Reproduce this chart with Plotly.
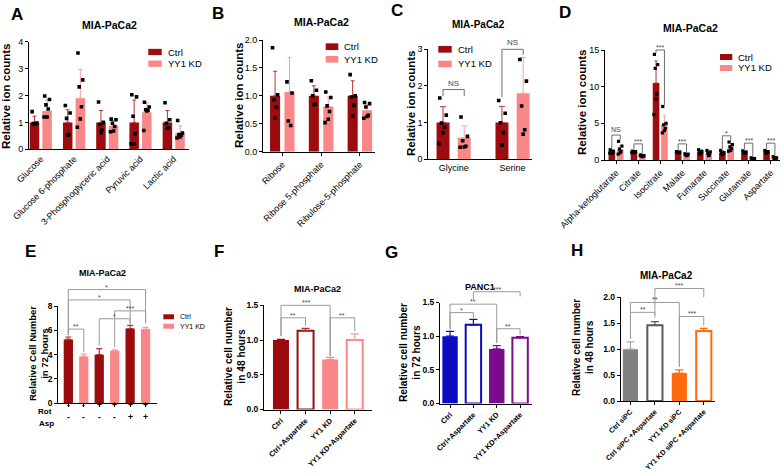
import plotly.graph_objects as go

W, H = 784, 476
FONT = 'Liberation Sans, Arial, Helvetica, sans-serif'

CTRL = '#9C0C0E'
CTRL_ERR = '#B83232'
KD = '#F98787'
KD_ERR = '#F6A0A0'
BLUE = '#0B0BC2'
PURPLE = '#7A0C8C'
GREY = '#808080'
GREY_DARK = '#595959'
ORANGE = '#FF6A0D'
BRK = '#9A9A9A'
BRK_DARK = '#6E6E6E'

# ---------------- Panel A ----------------
a_cats = ['Glucose', 'Glucose 6-phosphate', '3-Phosphoglyceric acid', 'Pyruvic acid', 'Lactic acid']
a_ctrl_mean = [1.0, 1.0, 1.0, 1.0, 1.0]
a_ctrl_sd = [0.23, 0.47, 0.44, 0.83, 0.44]
a_kd_mean = [1.42, 1.90, 0.88, 1.38, 0.60]
a_kd_sd = [0.42, 1.07, 0.20, 0.35, 0.27]
a_ctrl_pts = [[1.40, 0.98, 0.96, 0.95, 0.93],
              [1.63, 1.35, 1.15, 0.55, 0.52],
              [1.76, 1.00, 0.92, 0.72, 0.62],
              [2.03, 1.95, 1.23, 0.58, 0.20, 0.20],
              [1.73, 1.10, 0.97, 0.78, 0.78]]
a_kd_pts = [[1.98, 1.85, 1.65, 1.50, 1.20, 1.20],
            [3.58, 2.58, 2.32, 1.58, 1.13, 0.82],
            [1.12, 1.10, 0.97, 0.85, 0.68, 0.65],
            [1.75, 1.57, 1.47, 1.45, 1.43, 0.70],
            [1.07, 0.60, 0.55, 0.52, 0.46, 0.42]]

# ---------------- Panel B ----------------
b_cats = ['Ribose', 'Ribose 5-phosphate', 'Ribulose-5-phosphate']
b_ctrl_mean = [1.0, 1.0, 1.0]
b_ctrl_sd = [0.44, 0.18, 0.27]
b_kd_mean = [1.07, 0.81, 0.74]
b_kd_sd = [0.62, 0.17, 0.10]
b_ctrl_pts = [[1.86, 1.02, 0.93, 0.80, 0.60],
              [1.27, 1.10, 1.00, 0.85, 0.84],
              [1.38, 1.00, 0.98, 0.83, 0.64]]
b_kd_pts = [[1.25, 1.05, 0.55, 0.47],
            [1.07, 0.97, 0.82, 0.72, 0.58, 0.52],
            [0.88, 0.86, 0.80, 0.65, 0.63, 0.60]]

# ---------------- Panel C ----------------
c_cats = ['Glycine', 'Serine']
c_ctrl_mean = [1.0, 1.0]
c_ctrl_sd = [0.43, 0.44]
c_kd_mean = [0.58, 1.80]
c_kd_sd = [0.32, 0.98]
c_ctrl_pts = [[1.67, 1.20, 0.98, 0.87, 0.72, 0.42],
              [1.60, 1.25, 0.99, 0.72, 0.38]]
c_kd_pts = [[1.15, 0.62, 0.50, 0.35, 0.33, 0.32],
            [2.72, 2.13, 1.45, 0.80, 0.68]]
c_sig = ['NS', 'NS']

# ---------------- Panel D ----------------
d_cats = ['Alpha-ketoglutarate', 'Citrate', 'Isocitrate', 'Malate', 'Fumarate',
          'Succinate', 'Glutamate', 'Aspartate']
d_ctrl_mean = [1.1, 1.1, 10.5, 1.05, 1.05, 1.0, 1.05, 1.1]
d_ctrl_sd = [0.25, 0.10, 3.0, 0.08, 0.20, 0.25, 0.15, 0.20]
d_kd_mean = [1.4, 0.6, 4.8, 0.75, 0.9, 1.7, 0.2, 0.3]
d_kd_sd = [0.5, 0.15, 1.3, 0.10, 0.20, 0.5, 0.05, 0.08]
d_ctrl_pts = [[1.40, 1.20, 1.10, 1.00, 0.90, 0.95],
              [1.20, 1.15, 1.10, 1.05, 1.00, 1.00],
              [14.4, 13.0, 12.5, 9.0, 8.3, 6.2],
              [1.15, 1.10, 1.05, 1.00, 1.00],
              [1.40, 1.20, 1.00, 0.90, 0.80],
              [1.30, 1.00, 0.90, 0.80, 0.70],
              [1.25, 1.10, 1.00, 0.95, 0.90],
              [1.30, 1.15, 1.10, 1.00, 0.90]]
d_kd_pts = [[2.55, 1.90, 1.50, 1.20, 1.00, 0.80],
            [0.70, 0.60, 0.55, 0.50, 0.45, 0.60],
            [7.3, 5.0, 4.8, 4.3, 4.0, 3.7],
            [0.85, 0.80, 0.70, 0.65, 0.60],
            [1.30, 1.10, 0.90, 0.70, 0.60],
            [2.45, 2.10, 1.80, 1.60, 1.30, 1.20],
            [0.30, 0.20, 0.15, 0.10, 0.10],
            [0.45, 0.30, 0.25, 0.20, 0.20]]
d_sig = ['NS', '***', '***', '***', None, '*', '***', '***']

# ---------------- Panel E ----------------
e_groups = ['Ctrl', 'YY1 KD', 'Ctrl', 'YY1 KD', 'Ctrl', 'YY1 KD']
e_mean = [5.25, 3.85, 4.0, 4.33, 6.15, 6.1]
e_sd = [0.2, 0.2, 0.5, 0.07, 0.25, 0.15]
e_rot = ['-', '-', '+', '+', '+', '+']
e_asp = ['-', '-', '-', '-', '+', '+']

# ---------------- Panel F ----------------
f_cats = ['Ctrl', 'Ctrl+Aspartate', 'YY1 KD', 'YY1 KD+Aspartate']
f_mean = [1.0, 1.133, 0.72, 1.0]
f_sd = [0.01, 0.035, 0.03, 0.09]

# ---------------- Panel G ----------------
g_cats = ['Ctrl', 'Ctrl+Aspartate', 'YY1 KD', 'YY1 KD+Aspartate']
g_mean = [1.0, 1.168, 0.81, 0.977]
g_sd = [0.07, 0.08, 0.05, 0.015]

# ---------------- Panel H ----------------
h_cats = ['Ctrl siPC', 'Ctrl siPC +Aspartate', 'YY1 KD siPC', 'YY1 KD siPC +Aspartate']
h_mean = [1.0, 1.46, 0.54, 1.35]
h_sd = [0.14, 0.07, 0.06, 0.05]

# significance brackets (bar i, bar j, top, left end, right end, label)
e_brackets = [(0, 5, 9.35, 5.6, 6.65, '*'), (0, 4, 8.5, 5.6, 6.55, '*'),
              (3, 5, 7.6, 4.6, 6.55, '***'), (2, 4, 6.95, 4.75, 6.45, '*'),
              (0, 1, 6.1, 5.6, 4.2, '**')]
f_brackets = [(0, 2, 1.5, 1.06, 0.77, '***'), (0, 1, 1.32, 1.06, 1.2, '**'),
              (2, 3, 1.32, 0.77, 1.13, '**')]
g_brackets = [(1, 3, 1.66, 1.55, 1.59, '***'), (0, 2, 1.475, 1.1, 0.9, '**'),
              (0, 1, 1.35, 1.1, 1.27, '*'), (2, 3, 1.11, 0.9, 1.02, '**')]
h_brackets = [(1, 3, 2.17, 1.66, 2.0, '***'), (0, 2, 1.9, 1.2, 0.66, '**'),
              (0, 1, 1.71, 1.2, 1.61, '**'), (2, 3, 1.63, 0.66, 1.45, '***')]
# grouped panels: (category, top, ctrl end, kd end)
c_brackets = [(0, 1.9, 1.72, 1.72), (1, 3.0, 1.69, 2.85)]
d_brackets = [(0, 3.4, 1.6, 2.8), (1, 2.2, 1.4, 0.9), (2, 15.0, 14.6, 7.5), (3, 2.2, 1.3, 1.0),
              (5, 3.3, 1.5, 2.6), (6, 2.3, 1.4, 0.5), (7, 2.3, 1.5, 0.6)]

JIT = [-0.25, 0.25, -0.12, 0.12, 0.0, -0.32, 0.32]

fig = go.Figure()
annotations = []
shapes = []
layout_axes = {}


def names(n):
    s = '' if n == 1 else str(n)
    return 'x' + s, 'y' + s, 'xaxis' + s, 'yaxis' + s


def setup(n, box, xr, yr, ytv, yfmt, xtv, xtt, xangle, xticks, yfont, xfont, show_xlabels=True):
    x0, x1, ytop, ybot = box
    xa, ya, xk, yk = names(n)
    layout_axes[xk] = dict(domain=[x0 / W, x1 / W], range=list(xr), anchor=ya,
                           showline=True, linecolor='black', linewidth=1,
                           ticks=xticks, ticklen=3, tickcolor='black', tickwidth=1,
                           tickvals=xtv, ticktext=xtt, tickangle=xangle,
                           tickfont=xfont, showticklabels=show_xlabels, automargin=False,
                           showgrid=False, zeroline=False, fixedrange=True)
    layout_axes[yk] = dict(domain=[1 - ybot / H, 1 - ytop / H], range=list(yr), anchor=xa,
                           showline=True, linecolor='black', linewidth=1,
                           ticks='outside', ticklen=3, tickcolor='black', tickwidth=1,
                           tickvals=ytv, tickformat=yfmt, tickfont=yfont, automargin=False,
                           showgrid=False, zeroline=False, fixedrange=True)


def txt(x, y, text, size, bold=False, angle=0, color='black', xanchor='center', yanchor='middle'):
    t = '<b>%s</b>' % text if bold else text
    annotations.append(dict(x=x / W, y=1 - y / H, xref='paper', yref='paper', text=t,
                            showarrow=False, textangle=angle, xanchor=xanchor, yanchor=yanchor,
                            font=dict(family=FONT, size=size, color=color)))


def legend(x, y1, y2, w, h, size, colors=(CTRL, KD), labels=('Ctrl', 'YY1 KD')):
    for yy, col, lab in zip((y1, y2), colors, labels):
        shapes.append(dict(type='rect', xref='paper', yref='paper', x0=x / W, x1=(x + w) / W,
                           y0=1 - (yy + h / 2) / H, y1=1 - (yy - h / 2) / H,
                           fillcolor=col, line=dict(width=0)))
        txt(x + w + 4, yy, lab, size, xanchor='left')


def bracket(n, ymax, xl, xr, top, yl, yr, label, color=BRK, tcolor='#444444', fs=7, shift=-3):
    xa, ya, _, _ = names(n)
    yd = ya + ' domain'
    for (a0, b0, a1, b1) in [(xl, yl, xl, top), (xl, top, xr, top), (xr, top, xr, yr)]:
        shapes.append(dict(type='line', xref=xa, yref=yd, x0=a0, x1=a1, y0=b0 / ymax, y1=b1 / ymax,
                           line=dict(color=color, width=1)))
    annotations.append(dict(x=(xl + xr) / 2, y=top / ymax, xref=xa, yref=yd, text=label,
                            showarrow=False, xanchor='center', yanchor='bottom', yshift=shift,
                            font=dict(family=FONT, size=fs, color=tcolor)))


def grouped(n, cm, cs, km, ks, cp, kp, off, bw, msize, ew):
    xa, ya, _, _ = names(n)
    idx = list(range(len(cm)))
    for means, sds, pts, sgn, col, ecol in [(cm, cs, cp, -1, CTRL, CTRL_ERR), (km, ks, kp, 1, KD, KD_ERR)]:
        xs = [i + sgn * off for i in idx]
        fig.add_trace(go.Bar(x=xs, y=means, width=bw, xaxis=xa, yaxis=ya, showlegend=False,
                             marker=dict(color=col, line=dict(width=0)),
                             error_y=dict(type='data', array=sds, arrayminus=[0] * len(sds),
                                          symmetric=False, color=ecol, thickness=1, width=ew)))
        px, py = [], []
        for i, p in enumerate(pts):
            for k, v in enumerate(p):
                px.append(xs[i] + JIT[k % len(JIT)] * bw)
                py.append(v)
        fig.add_trace(go.Scatter(x=px, y=py, mode='markers', xaxis=xa, yaxis=ya, showlegend=False,
                                 marker=dict(symbol='square', size=msize, color='black',
                                             line=dict(width=0))))


def single(n, means, sds, fills, lines, lws, ecols, bw, ew):
    xa, ya, _, _ = names(n)
    for i, (m, s) in enumerate(zip(means, sds)):
        fig.add_trace(go.Bar(x=[i], y=[m], width=bw, xaxis=xa, yaxis=ya, showlegend=False,
                             marker=dict(color=fills[i], line=dict(color=lines[i], width=lws[i])),
                             error_y=dict(type='data', array=[s], arrayminus=[0], symmetric=False,
                                          color=ecols[i], thickness=1.2, width=ew)))


tf = dict(family=FONT, size=9, color='black')
tfb = dict(family=FONT, size=8.5, color='black', weight='bold')
xb = dict(family=FONT, size=7.4, color='black', weight='bold')
xbh = dict(family=FONT, size=7.1, color='black', weight='bold')

# ---- A ----
setup(1, (29, 189, 41.7, 149.3), (-0.355, 4.46), (0, 4), [0, 1, 2, 3, 4], None,
      list(range(5)), a_cats, -45, '', tf, tf)
grouped(1, a_ctrl_mean, a_ctrl_sd, a_kd_mean, a_kd_sd, a_ctrl_pts, a_kd_pts, 0.19, 0.286, 3.6, 2)
txt(17, 14, 'A', 17, bold=True)
txt(110, 25, 'MIA-PaCa2', 10.5, bold=True)
txt(6, 97, 'Relative ion counts', 11.5, bold=True, angle=-90)
legend(148.3, 52, 63.7, 13.4, 6.3, 9.5)

# ---- B ----
setup(2, (263, 375, 40, 151.7), (-0.497, 2.39), (0, 2), [0, 0.5, 1, 1.5, 2], '.1f',
      list(range(3)), b_cats, -45, 'outside', tf, tf)
grouped(2, b_ctrl_mean, b_ctrl_sd, b_kd_mean, b_kd_sd, b_ctrl_pts, b_kd_pts, 0.186, 0.26, 3.6, 2)
txt(217.5, 13, 'B', 17, bold=True)
txt(321.5, 22, 'MIA-PaCa2', 10.5, bold=True)
txt(239, 96, 'Relative ion counts', 11.5, bold=True, angle=-90)
legend(325.7, 46.7, 59.3, 12.6, 6.7, 9.5)

# ---- C ----
setup(3, (428.3, 532, 49.3, 159), (-0.43, 1.33), (0, 3), [0, 1, 2, 3], None,
      list(range(2)), c_cats, 0, '', tf, tf)
grouped(3, c_ctrl_mean, c_ctrl_sd, c_kd_mean, c_kd_sd, c_ctrl_pts, c_kd_pts, 0.18, 0.22, 3.6, 3)
for (i, top, yl, yr), lab in zip(c_brackets, c_sig):
    bracket(3, 3, i - 0.18, i + 0.18, top, yl, yr, lab, color=BRK_DARK, fs=8, shift=0)
txt(396.7, 10, 'C', 17, bold=True)
txt(478, 24.3, 'MIA-PaCa2', 10, bold=True)
txt(411, 104, 'Relative ion counts', 11.5, bold=True, angle=-90)
legend(438.3, 49.3, 64, 13.4, 6.7, 9.5)

# ---- D ----
setup(4, (605, 780, 50, 160), (-0.5, 7.42), (0, 15), [0, 5, 10, 15], None,
      list(range(8)), d_cats, -45, 'outside', tf, tf)
grouped(4, d_ctrl_mean, d_ctrl_sd, d_kd_mean, d_kd_sd, d_ctrl_pts, d_kd_pts, 0.19, 0.3, 3.2, 1.5)
for (i, top, yl, yr) in d_brackets:
    bracket(4, 15, i - 0.19, i + 0.19, top, yl, yr, d_sig[i], color=BRK_DARK, fs=7,
            shift=0 if d_sig[i] == 'NS' else -3)
txt(565, 12, 'D', 17, bold=True)
txt(690, 28.3, 'MIA-PaCa2', 10.5, bold=True)
txt(582, 103, 'Relative ion counts', 11.5, bold=True, angle=-90)
legend(720, 57, 68, 12.3, 6, 9.5)

# ---- E ----
setup(5, (58.3, 156.7, 306, 403.3), (-0.65, 5.72), (0, 8), [0, 2, 4, 6, 8], None,
      list(range(6)), [''] * 6, 0, 'outside', tfb, tfb, show_xlabels=False)
e_fill = [CTRL if g == 'Ctrl' else KD for g in e_groups]
e_err = [CTRL_ERR if g == 'Ctrl' else KD_ERR for g in e_groups]
single(5, e_mean, e_sd, e_fill, e_fill, [0] * 6, e_err, 0.6, 3)
for b in e_brackets:
    bracket(5, 8, b[0], b[1], b[2], b[3], b[4], b[5])
for i, (r, a) in enumerate(zip(e_rot, e_asp)):
    annotations.append(dict(x=i, y=1 - 411.5 / H, xref='x5', yref='paper', text='<b>%s</b>' % r,
                            showarrow=False, font=dict(family=FONT, size=8.5, color='black')))
    annotations.append(dict(x=i, y=1 - 423.5 / H, xref='x5', yref='paper', text='<b>%s</b>' % a,
                            showarrow=False, font=dict(family=FONT, size=8.5, color='black')))
txt(45, 411.5, 'Rot', 8, bold=True)
txt(46, 423.5, 'Asp', 8, bold=True)
txt(30, 251.7, 'E', 17, bold=True)
txt(102, 273.3, 'MIA-PaCa2', 9, bold=True)
txt(38, 354, 'Relative Cell Number<br>in 72 hours', 9.5, bold=True, angle=-90)
legend(163.3, 316.8, 326.2, 10.7, 5, 7)

# ---- F ----
setup(6, (264, 371.7, 305.3, 409.5), (-0.69, 3.69), (0, 1.5), [0, 0.5, 1, 1.5], '.1f',
      list(range(4)), f_cats, -45, 'outside', tfb, xb)
single(6, f_mean, f_sd, [CTRL, 'white', KD, 'white'], [CTRL, CTRL, KD, KD], [0, 2, 0, 2],
       [CTRL, CTRL_ERR, KD, KD_ERR], 0.65, 4)
for b in f_brackets:
    bracket(6, 1.5, b[0], b[1], b[2], b[3], b[4], b[5])
txt(219, 251.7, 'F', 17, bold=True)
txt(317.5, 289.3, 'MIA-PaCa2', 9, bold=True)
txt(235, 357, 'Relative cell number<br>in 48 hours', 10.2, bold=True, angle=-90)

# ---- G ----
setup(7, (440, 532, 302.5, 403.5), (-0.43, 3.51), (0, 1.5), [0, 0.5, 1, 1.5], '.1f',
      list(range(4)), g_cats, -45, 'outside', tfb, xb)
single(7, g_mean, g_sd, [BLUE, 'white', PURPLE, 'white'], [BLUE, BLUE, PURPLE, PURPLE], [0, 2, 0, 2],
       [BLUE, BLUE, PURPLE, PURPLE], 0.66, 4)
for b in g_brackets:
    bracket(7, 1.5, b[0], b[1], b[2], b[3], b[4], b[5])
txt(391, 252, 'G', 17, bold=True)
txt(480, 287, 'PANC1', 9, bold=True)
txt(410, 353, 'Relative cell number<br>in 72 hours', 10.2, bold=True, angle=-90)

# ---- H ----
setup(8, (620.7, 715, 297.3, 401), (-0.4, 3.46), (0, 2), [0, 0.5, 1, 1.5, 2], '.1f',
      list(range(4)), h_cats, -45, 'outside', tfb, xbh)
single(8, h_mean, h_sd, [GREY, 'white', ORANGE, 'white'], [GREY, GREY_DARK, ORANGE, ORANGE],
       [0, 2, 0, 2], ['#A8A8A8', GREY_DARK, ORANGE, ORANGE], 0.62, 4)
for b in h_brackets:
    bracket(8, 2, b[0], b[1], b[2], b[3], b[4], b[5])
txt(576.7, 250, 'H', 17, bold=True)
txt(666, 275, 'MIA-PaCa2', 10, bold=True)
txt(583, 348, 'Relative cell number<br>in 48 hours', 10, bold=True, angle=-90)

fig.update_layout(width=W, height=H, margin=dict(l=0, r=0, t=0, b=0, pad=0, autoexpand=False),
                  autosize=False,
                  paper_bgcolor='white', plot_bgcolor='white', barmode='overlay',
                  showlegend=False, font=dict(family=FONT, color='black'),
                  annotations=annotations, shapes=shapes, **layout_axes)
fig.write_html('out.html', config={'displayModeBar': False},
               post_script="document.body.style.margin='0';")
